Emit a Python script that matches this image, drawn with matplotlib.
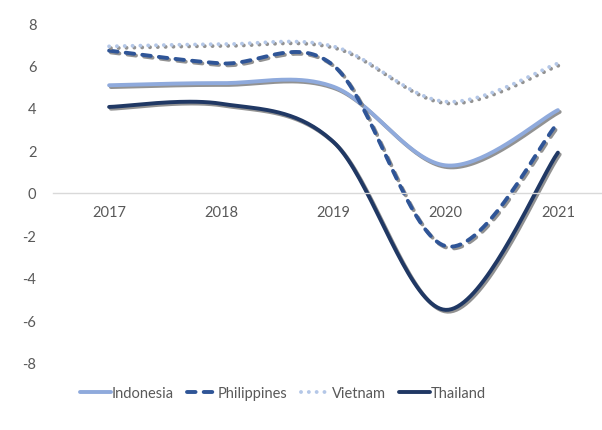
import numpy as np
import matplotlib
matplotlib.use("Agg")
import matplotlib.pyplot as plt
import matplotlib.patheffects as pe
from matplotlib.lines import Line2D

plt.rcParams['font.family'] = ['Lato', 'DejaVu Sans']
plt.rcParams['axes.unicode_minus'] = False

# data
years = [2017, 2018, 2019, 2020, 2021]
indonesia = [5.07, 5.17, 5.0, 1.3, 3.9]
philippines = [6.7, 6.1, 6.0, -2.5, 3.3]
vietnam = [6.9, 7.0, 6.9, 4.3, 6.1]
thailand = [4.05, 4.2, 2.4, -5.5, 1.9]


def smooth(x, y, n=40):
    # Excel-style smoothed line (Catmull-Rom as cubic Bezier)
    x = np.asarray(x, float)
    y = np.asarray(y, float)
    px = np.concatenate([[x[0]], x, [x[-1]]])
    py = np.concatenate([[y[0]], y, [y[-1]]])
    xs, ys = [], []
    t = np.linspace(0, 1, n)
    for i in range(1, len(px) - 2):
        p0 = np.array([px[i], py[i]])
        p3 = np.array([px[i + 1], py[i + 1]])
        p1 = p0 + (np.array([px[i + 1], py[i + 1]]) - np.array([px[i - 1], py[i - 1]])) / 6
        p2 = p3 - (np.array([px[i + 2], py[i + 2]]) - np.array([px[i], py[i]])) / 6
        b = ((1 - t) ** 3)[:, None] * p0 + (3 * (1 - t) ** 2 * t)[:, None] * p1 \
            + (3 * (1 - t) * t ** 2)[:, None] * p2 + (t ** 3)[:, None] * p3
        xs.extend(b[:, 0])
        ys.extend(b[:, 1])
    return np.array(xs), np.array(ys)


fig = plt.figure(figsize=(6.02, 4.31), dpi=100)
ax = fig.add_axes([53 / 602, 67 / 431, 561 / 602, 340 / 431])

shadow = [pe.SimpleLineShadow(offset=(1.3, -1.3), shadow_color='#7f7f7f', alpha=0.85), pe.Normal()]
lw = 2.8

styles = [
    ('Indonesia', indonesia, '#8FAADC', dict(ls='-', solid_capstyle='round')),
    ('Philippines', philippines, '#2F5597', dict(ls=(0, (2.2, 2.1)), dash_capstyle='round')),
    ('Vietnam', vietnam, '#B4C7E7', dict(ls=(0, (0.01, 2.0)), dash_capstyle='round')),
    ('Thailand', thailand, '#203864', dict(ls='-', solid_capstyle='round')),
]

handles = []
for name, vals, col, kw in styles:
    sx, sy = smooth(years, vals)
    ax.plot(sx, sy, color=col, lw=lw, path_effects=shadow, **kw)
    handles.append(Line2D([], [], color=col, lw=lw, **kw))

ax.set_xlim(2016.5, 2021.5)
ax.set_ylim(-8, 8)
ax.set_yticks(range(-8, 9, 2))
ax.set_xticks(years)
for s in ['top', 'right', 'left']:
    ax.spines[s].set_visible(False)
ax.spines['bottom'].set_position(('data', 0))
ax.spines['bottom'].set_color('#D9D9D9')
ax.spines['bottom'].set_linewidth(1)
ax.tick_params(length=0, labelsize=10.5, labelcolor='#595959')
ax.tick_params(axis='x', pad=9)
ax.tick_params(axis='y', pad=12)

fig.legend(handles, [s[0] for s in styles], loc='center', bbox_to_anchor=(283 / 602, 1 - 394 / 431),
           ncol=4, frameon=False, fontsize=10.5, handlelength=2.1, handletextpad=0.05,
           columnspacing=0.9, labelcolor='#595959')

fig.savefig('out.png', dpi=100)
